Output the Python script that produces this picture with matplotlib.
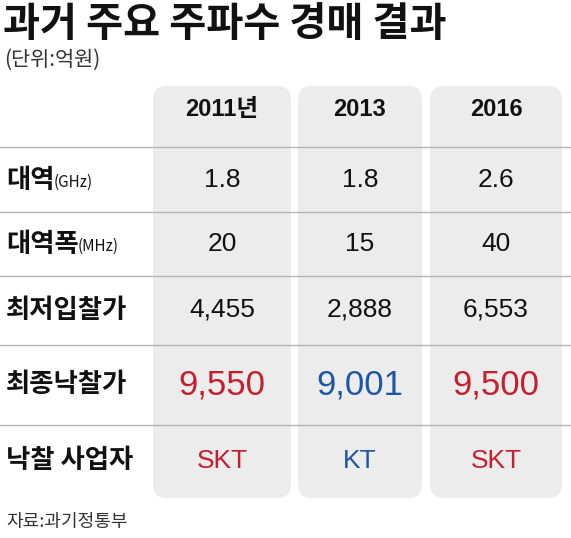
import matplotlib.pyplot as plt
from matplotlib.patches import FancyBboxPatch

plt.rcParams['font.family'] = ['Noto Sans CJK KR', 'DejaVu Sans']
NUM = ['Liberation Sans', 'Noto Sans CJK KR']

title = "과거 주요 주파수 경매 결과"
unit = "(단위:억원)"
source = "자료:과기정통부"
years = ["2011년", "2013", "2016"]
row_labels = ["대역", "대역폭", "최저입찰가", "최종낙찰가", "낙찰 사업자"]
row_units = ["(GHz)", "(MHz)", "", "", ""]
band = ["1.8", "1.8", "2.6"]
width = ["20", "15", "40"]
min_bid = ["4,455", "2,888", "6,553"]
final_bid = ["9,550", "9,001", "9,500"]
winner = ["SKT", "KT", "SKT"]

RED = "#c41f2e"
BLUE = "#1f56a3"
win_colors = [RED, BLUE, RED]

fig = plt.figure(figsize=(5.71, 5.38), dpi=100)
ax = fig.add_axes([0, 0, 1, 1])
ax.set_xlim(0, 571)
ax.set_ylim(538, 0)
ax.axis("off")

col_x = [222, 360, 496]
col_w = [138, 124, 132]
for cx, w in zip(col_x, col_w):
    ax.add_patch(FancyBboxPatch((cx - w / 2, 86), w, 412,
                                boxstyle="round,pad=0,rounding_size=14",
                                fc="#ececec", ec="none", zorder=0))

ax.text(3, 24, title, fontsize=29, fontweight="bold", va="center", color="#111")
ax.text(4, 60, unit, fontsize=15, va="center", color="#333")

for cx, y in zip(col_x, years):
    ax.text(cx, 110, y, fontsize=17, fontweight="bold", ha="center", va="center",
            color="#111", family=NUM)

for yl in [147, 212, 276, 345, 425]:
    ax.plot([0, 571], [yl, yl], color="#b5b5b5", lw=1, zorder=1)

row_y = [180, 244, 310, 385, 461]
for y, lab, u in zip(row_y, row_labels, row_units):
    ax.text(6, y, lab, fontsize=19, fontweight="bold", va="center", color="#111")
    if u:
        off = 48 if lab == "대역" else 72
        ax.text(6 + off, y + 2, u, fontsize=11, va="center", color="#111")

for vals, y in [(band, row_y[0]), (width, row_y[1]), (min_bid, row_y[2])]:
    for cx, v in zip(col_x, vals):
        ax.text(cx, y, v, fontsize=19, ha="center", va="center", color="#111", family=NUM)
for cx, v, c in zip(col_x, final_bid, win_colors):
    ax.text(cx, row_y[3], v, fontsize=25, ha="center", va="center", color=c, family=NUM)
for cx, v, c in zip(col_x, winner, win_colors):
    ax.text(cx, row_y[4], v, fontsize=19, ha="center", va="center", color=c, family=NUM)

ax.text(6, 522, source, fontsize=13, va="center", color="#333")

fig.savefig("out.png", dpi=100)
